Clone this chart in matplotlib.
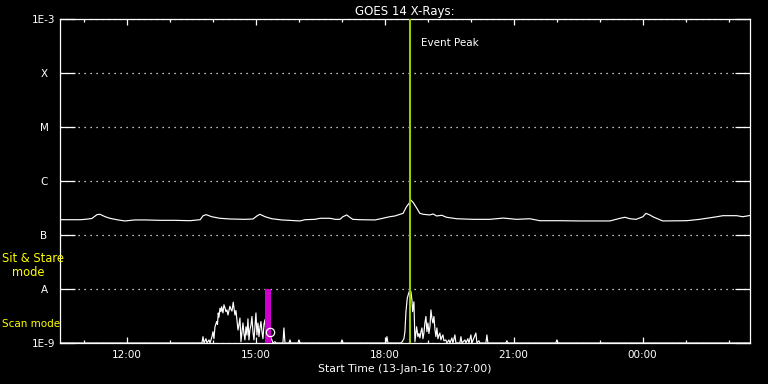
import matplotlib
matplotlib.use('Agg')
import matplotlib.pyplot as plt
from matplotlib.ticker import FixedLocator, NullLocator

# long channel (1-8 A), time in decimal hours of 13-Jan-16, flux in 1E-7 W/m2
t_long = [10.45, 10.92, 11.03, 11.19, 11.31, 11.38, 11.50, 11.61, 11.80, 11.96,
          12.19, 12.43, 12.78, 13.12, 13.47, 13.71, 13.78, 13.85, 13.98, 14.17,
          14.40, 14.75, 14.94, 15.03, 15.10, 15.22, 15.38, 15.61, 15.92, 16.03,
          16.15, 16.38, 16.50, 16.73, 16.85, 16.96, 17.03, 17.12, 17.19, 17.26,
          17.43, 17.78, 17.96, 18.12, 18.24, 18.43, 18.51, 18.57, 18.61, 18.67,
          18.75, 18.82, 18.90, 19.05, 19.13, 19.21, 19.33, 19.44, 19.68, 20.06,
          20.45, 20.76, 21.07, 21.38, 21.61, 22.08, 22.54, 23.24, 23.48, 23.59,
          23.71, 23.85, 24.01, 24.08, 24.17, 24.24, 24.36, 24.47, 25.03, 25.33,
          25.73, 25.87, 26.19, 26.33, 26.50]
f_long = [1.92, 1.92, 1.95, 2.02, 2.38, 2.42, 2.18, 2.04, 1.90, 1.82,
          1.90, 1.90, 1.87, 1.87, 1.84, 1.92, 2.28, 2.38, 2.18, 2.04,
          1.98, 1.95, 1.98, 2.25, 2.42, 2.18, 2.00, 1.90, 1.84, 1.82,
          1.92, 1.95, 2.04, 2.04, 1.95, 1.95, 2.18, 2.35, 2.13, 1.95,
          1.92, 1.90, 2.04, 2.18, 2.25, 2.52, 3.34, 3.86, 4.45, 3.96,
          3.12, 2.52, 2.42, 2.35, 2.45, 2.25, 2.32, 2.13, 2.00, 1.95,
          1.95, 2.06, 1.95, 2.00, 1.84, 1.84, 1.82, 1.82, 2.04, 2.13,
          2.00, 1.95, 2.18, 2.52, 2.35, 2.18, 1.98, 1.82, 1.84, 1.95,
          2.18, 2.28, 2.28, 2.18, 2.30]

# short channel (0.5-4 A), flux in 1E-9 W/m2
t_short = [10.45, 13.706, 13.752, 13.776, 13.799, 13.845, 13.869, 13.915, 13.938, 13.985,
           14.008, 14.031, 14.055, 14.094, 14.113, 14.131, 14.148, 14.171, 14.194, 14.210,
           14.229, 14.241, 14.264, 14.287, 14.310, 14.334, 14.357, 14.380, 14.403, 14.427,
           14.450, 14.480, 14.497, 14.520, 14.543, 14.566, 14.590, 14.613, 14.636, 14.659,
           14.683, 14.706, 14.729, 14.752, 14.776, 14.799, 14.822, 14.845, 14.869, 14.892,
           14.915, 14.938, 14.962, 14.985, 15.008, 15.031, 15.055, 15.078, 15.101, 15.124,
           15.148, 15.171, 15.194, 15.217, 15.241, 15.264, 15.287, 15.310, 15.334, 15.357,
           15.380, 15.403, 15.450, 15.473, 15.636, 15.659, 15.683, 15.776, 15.799, 15.822,
           15.985, 16.008, 16.031, 16.985, 17.008, 17.031, 18.031, 18.055, 18.078, 18.380,
           18.411, 18.450, 18.473, 18.497, 18.527, 18.559, 18.590, 18.613, 18.636, 18.652,
           18.683, 18.706, 18.745, 18.776, 18.799, 18.822, 18.845, 18.869, 18.892, 18.915,
           18.938, 18.962, 18.985, 19.008, 19.031, 19.055, 19.078, 19.101, 19.124, 19.148,
           19.171, 19.194, 19.217, 19.241, 19.264, 19.287, 19.310, 19.334, 19.357, 19.380,
           19.427, 19.450, 19.497, 19.520, 19.566, 19.590, 19.636, 19.659, 19.752, 19.776,
           19.799, 19.869, 19.892, 19.938, 19.962, 20.008, 20.031, 20.124, 20.148, 20.194,
           20.217, 20.357, 20.380, 20.403, 20.822, 20.845, 20.869, 21.985, 22.008, 22.031,
           26.50]
f_short = [1.0, 1.0, 1.0, 1.31, 1.0, 1.2, 1.0, 1.14, 1.0, 1.3,
           1.62, 1.2, 2.0, 2.5, 2.2, 3.6, 3.0, 4.4, 3.8, 4.7,
           4.0, 3.6, 5.1, 4.5, 3.8, 4.1, 3.3, 4.0, 4.8, 4.2,
           3.9, 5.7, 4.4, 3.3, 4.0, 2.7, 1.74, 2.2, 2.9, 1.06,
           1.6, 2.35, 1.5, 1.14, 2.0, 1.4, 2.8, 1.14, 1.8, 2.15,
           3.1, 1.6, 1.14, 2.0, 3.6, 1.41, 2.35, 1.31, 1.9, 2.5,
           1.62, 1.2, 2.2, 2.7, 1.5, 1.3, 1.9, 1.4, 1.74, 1.2,
           1.14, 1.0, 1.06, 1.0, 1.0, 1.9, 1.0, 1.0, 1.14, 1.0,
           1.0, 1.14, 1.0, 1.0, 1.14, 1.0, 1.0, 1.31, 1.0, 1.0,
           1.06, 1.2, 1.62, 3.8, 6.7, 8.3, 9.6, 8.9, 6.3, 3.8,
           5.8, 1.06, 2.0, 1.31, 1.5, 1.24, 1.6, 1.9, 1.2, 1.53,
           2.35, 3.1, 1.62, 2.35, 1.5, 2.0, 4.1, 2.9, 2.35, 3.1,
           1.8, 1.31, 1.9, 1.2, 1.4, 1.53, 1.14, 1.3, 1.41, 1.1,
           1.14, 1.0, 1.14, 1.0, 1.24, 1.0, 1.41, 1.0, 1.0, 1.31,
           1.0, 1.14, 1.0, 1.2, 1.0, 1.41, 1.0, 1.53, 1.0, 1.1,
           1.0, 1.0, 1.41, 1.0, 1.0, 1.1, 1.0, 1.0, 1.14, 1.0,
           1.0]

event_peak = 18.59
scan_start, scan_end = 15.22, 15.36
scan_point = (15.345, 1.63e-9)

y_ticks = [1e-9, 1e-8, 1e-7, 1e-6, 1e-5, 1e-4, 1e-3]
y_labels = ['1E-9', 'A', 'B', 'C', 'M', 'X', '1E-3']
x_major = [12, 15, 18, 21, 24]
x_labels = ['12:00', '15:00', '18:00', '21:00', '00:00']
x_minor = [11, 13, 14, 16, 17, 19, 20, 22, 23, 25, 26]

fig = plt.figure(figsize=(7.68, 3.84), dpi=100, facecolor='black')
ax = fig.add_axes([60/768, 41/384, 690/768, 324/384], facecolor='black')

ax.plot(t_long, [v * 1e-7 for v in f_long], color='white', lw=0.85, zorder=3)
ax.plot(t_short, [v * 1e-9 for v in f_short], color='white', lw=0.85, zorder=3)
ax.fill_between([scan_start, scan_end], 1e-9, 1e-8, color='#cc00cc', lw=0, zorder=4)
ax.plot([scan_point[0]], [scan_point[1]], 'o', mfc='none', mec='white', ms=6, mew=0.9, zorder=6)
ax.axvline(event_peak, color='#99cc00', lw=1.5, zorder=5)
ax.text(event_peak + 0.25, 3.6e-4, 'Event Peak', color='white', fontsize=7.5, va='center')

ax.set_yscale('log')
ax.set_ylim(1e-9, 1e-3)
ax.set_xlim(10.45, 26.5)
ax.yaxis.set_major_locator(FixedLocator(y_ticks))
ax.yaxis.set_minor_locator(NullLocator())
ax.set_yticklabels(y_labels)
ax.xaxis.set_major_locator(FixedLocator(x_major))
ax.xaxis.set_minor_locator(FixedLocator(x_minor))
ax.set_xticklabels(x_labels)

for s in ax.spines.values():
    s.set_color('white')
    s.set_linewidth(0.9)
ax.tick_params(axis='y', which='major', direction='in', length=10.8, width=0.9,
               left=True, right=True, colors='white', labelsize=7.5, pad=11.5)
for lbl in ax.get_yticklabels():
    lbl.set_horizontalalignment('center')
ax.tick_params(axis='x', which='major', direction='in', length=4.5, width=0.9,
               top=True, bottom=True, colors='white', labelsize=7.5, pad=5)
ax.tick_params(axis='x', which='minor', direction='in', length=2.4, width=0.9,
               top=True, bottom=True, colors='white')
ax.yaxis.grid(True, which='major', color='white', linestyle=(0, (1, 3.8)), linewidth=0.9)

ax.set_title('GOES 14 X-Rays:', color='white', fontsize=8.5, pad=3)
ax.set_xlabel('Start Time (13-Jan-16 10:27:00)', color='white', fontsize=7.8, labelpad=3)

fig.text(2/768, 1 - 259/384, 'Sit & Stare', color='yellow', fontsize=8.3, va='center')
fig.text(12/768, 1 - 272/384, 'mode', color='yellow', fontsize=8.3, va='center')
fig.text(2/768, 1 - 324/384, 'Scan mode', color='yellow', fontsize=7.5, va='center')

fig.savefig('out.png', dpi=100, facecolor='black')
